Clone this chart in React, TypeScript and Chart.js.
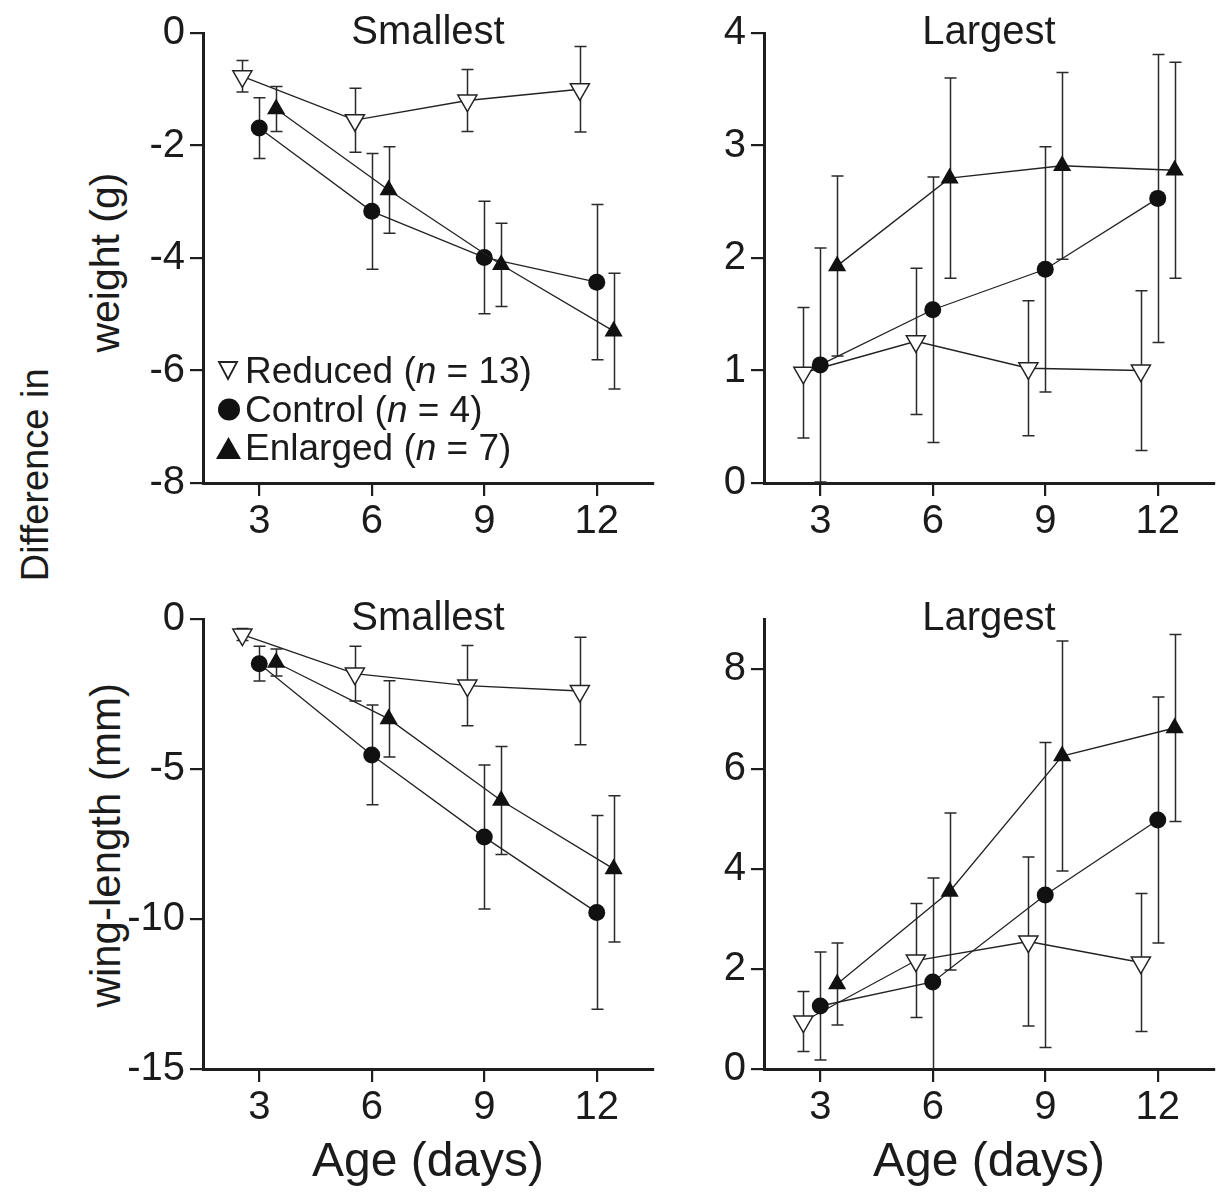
import React, { useEffect, useRef } from 'react';
import { Chart, registerables } from 'chart.js';

Chart.register(...registerables);

// Nestling age at measurement (days); groups are dodged sideways around each age.
const ageDays = [3, 6, 9, 12];
const ageTicks = [3, 6, 9, 12];

// Difference in weight (g), smallest chick
const wtSmallReduced = [-0.77, -1.55, -1.2, -1.0];
const wtSmallReducedErr = [0.28, 0.57, 0.55, 0.76];
const wtSmallControl = [-1.69, -3.17, -3.99, -4.43];
const wtSmallControlErr = [0.54, 1.03, 1.0, 1.38];
const wtSmallEnlarged = [-1.35, -2.79, -4.12, -5.3];
const wtSmallEnlargedErr = [0.4, 0.77, 0.74, 1.03];

// Difference in weight (g), largest chick
const wtLargeReduced = [0.98, 1.26, 1.02, 1.0];
const wtLargeReducedErr = [0.58, 0.65, 0.6, 0.71];
const wtLargeControl = [1.05, 1.54, 1.9, 2.53];
const wtLargeControlErr = [1.04, 1.18, 1.09, 1.28];
const wtLargeEnlarged = [1.93, 2.71, 2.82, 2.78];
const wtLargeEnlargedErr = [0.8, 0.89, 0.83, 0.96];

// Difference in wing-length (mm), smallest chick
const wingSmallReduced = [-0.52, -1.82, -2.22, -2.4];
const wingSmallReducedErr = [0.2, 0.91, 1.34, 1.79];
const wingSmallControl = [-1.49, -4.53, -7.27, -9.78];
const wingSmallControlErr = [0.58, 1.66, 2.4, 3.23];
const wingSmallEnlarged = [-1.45, -3.33, -6.05, -8.33];
const wingSmallEnlargedErr = [0.45, 1.27, 1.8, 2.44];

// Difference in wing-length (mm), largest chick
const wingLargeReduced = [0.95, 2.17, 2.55, 2.13];
const wingLargeReducedErr = [0.6, 1.14, 1.69, 1.38];
const wingLargeControl = [1.26, 1.74, 3.48, 4.98];
const wingLargeControlErr = [1.08, 2.08, 3.05, 2.46];
const wingLargeEnlarged = [1.7, 3.55, 6.26, 6.82];
const wingLargeEnlargedErr = [0.82, 1.57, 2.3, 1.87];

const groupNames = ['Reduced', 'Control', 'Enlarged'];
const groupSizes = [13, 4, 7];

const FONT = '"Liberation Sans", Arial, Helvetica, sans-serif';
const INK = '#1b1b1b';

// Geometry of each panel canvas
const AREA = 450;
const AX_W = 90;
const PAD_TOP = 30;
const AX_H = 70;
const PAD_RIGHT = 4;
const CANVAS_W = AX_W + AREA + PAD_RIGHT;
const CANVAS_H = PAD_TOP + AREA + AX_H;

const DODGE = [-0.45, 0, 0.45];

type Style = 'reduced' | 'control' | 'enlarged';
const STYLES: Style[] = ['reduced', 'control', 'enlarged'];

type PanelCfg = {
  title: string;
  left: number;
  top: number;
  yMin: number;
  yMax: number;
  yTicks: number[];
  means: number[][];
  errs: number[][];
  legend?: boolean;
};

const panels: PanelCfg[] = [
  {
    title: 'Smallest', left: 203, top: 33, yMin: -8, yMax: 0, yTicks: [-8, -6, -4, -2, 0],
    means: [wtSmallReduced, wtSmallControl, wtSmallEnlarged],
    errs: [wtSmallReducedErr, wtSmallControlErr, wtSmallEnlargedErr],
    legend: true,
  },
  {
    title: 'Largest', left: 764, top: 33, yMin: 0, yMax: 4, yTicks: [0, 1, 2, 3, 4],
    means: [wtLargeReduced, wtLargeControl, wtLargeEnlarged],
    errs: [wtLargeReducedErr, wtLargeControlErr, wtLargeEnlargedErr],
  },
  {
    title: 'Smallest', left: 203, top: 619, yMin: -15, yMax: 0, yTicks: [-15, -10, -5, 0],
    means: [wingSmallReduced, wingSmallControl, wingSmallEnlarged],
    errs: [wingSmallReducedErr, wingSmallControlErr, wingSmallEnlargedErr],
  },
  {
    title: 'Largest', left: 764, top: 619, yMin: 0, yMax: 9, yTicks: [0, 2, 4, 6, 8],
    means: [wingLargeReduced, wingLargeControl, wingLargeEnlarged],
    errs: [wingLargeReducedErr, wingLargeControlErr, wingLargeEnlargedErr],
  },
];

const CAP = 6;

const errorBarPlugin = {
  id: 'errorBars',
  beforeDatasetsDraw(chart: any) {
    const { ctx, chartArea, scales } = chart;
    ctx.save();
    ctx.beginPath();
    ctx.rect(chartArea.left, chartArea.top, chartArea.right - chartArea.left, chartArea.bottom - chartArea.top);
    ctx.clip();
    ctx.strokeStyle = '#2a2a2a';
    ctx.lineWidth = 1.5;
    chart.data.datasets.forEach((ds: any) => {
      ctx.beginPath();
      ds.data.forEach((pt: any, j: number) => {
        const e = ds.errors[j];
        const px = Math.round(scales.x.getPixelForValue(pt.x)) + 0.5;
        const yt = scales.y.getPixelForValue(pt.y + e);
        const yb = scales.y.getPixelForValue(pt.y - e);
        ctx.moveTo(px, yt);
        ctx.lineTo(px, yb);
        ctx.moveTo(px - CAP, yt);
        ctx.lineTo(px + CAP, yt);
        ctx.moveTo(px - CAP, yb);
        ctx.lineTo(px + CAP, yb);
      });
      ctx.stroke();
    });
    ctx.restore();
  },
};

const titlePlugin = {
  id: 'panelTitle',
  afterDraw(chart: any, _args: any, opts: any) {
    const { ctx, chartArea } = chart;
    ctx.save();
    ctx.font = `40px ${FONT}`;
    ctx.fillStyle = INK;
    ctx.textAlign = 'center';
    ctx.textBaseline = 'alphabetic';
    ctx.fillText(opts.text, (chartArea.left + chartArea.right) / 2, chartArea.top + 11);
    ctx.restore();
  },
};

const legendPlugin = {
  id: 'groupLegend',
  afterDraw(chart: any, _args: any, opts: any) {
    if (!opts.show) return;
    const { ctx, chartArea } = chart;
    const x0 = chartArea.left + 25;
    const base0 = chartArea.top + 350;
    const gap = 38.5;
    ctx.save();
    ctx.fillStyle = INK;
    ctx.textBaseline = 'alphabetic';
    ctx.textAlign = 'left';
    groupNames.forEach((name, i) => {
      const base = base0 + gap * i;
      const cy = base - 12;
      if (STYLES[i] === 'reduced') {
        ctx.beginPath();
        ctx.moveTo(x0 - 9, cy - 9);
        ctx.lineTo(x0 + 9, cy - 9);
        ctx.lineTo(x0, cy + 8);
        ctx.closePath();
        ctx.strokeStyle = '#222';
        ctx.lineWidth = 1.8;
        ctx.stroke();
      } else if (STYLES[i] === 'control') {
        ctx.beginPath();
        ctx.arc(x0 + 1, cy, 11, 0, Math.PI * 2);
        ctx.fillStyle = '#111';
        ctx.fill();
      } else {
        ctx.beginPath();
        ctx.moveTo(x0 - 12, cy + 11);
        ctx.lineTo(x0 + 13, cy + 11);
        ctx.lineTo(x0 + 0.5, cy - 11);
        ctx.closePath();
        ctx.fillStyle = '#111';
        ctx.fill();
      }
      ctx.fillStyle = INK;
      let x = x0 + 17;
      const parts: [string, boolean][] = [
        [`${name} (`, false],
        ['n', true],
        [` = ${groupSizes[i]})`, false],
      ];
      parts.forEach(([t, it]) => {
        ctx.font = `${it ? 'italic ' : ''}37px ${FONT}`;
        ctx.fillText(t, x, base);
        x += ctx.measureText(t).width;
      });
    });
    ctx.restore();
  },
};

function Panel({ cfg }: { cfg: PanelCfg }) {
  const ref = useRef<HTMLCanvasElement>(null);
  useEffect(() => {
    const datasets = STYLES.map((st, g) => ({
      label: groupNames[g],
      data: ageDays.map((d, i) => ({ x: d + DODGE[g], y: cfg.means[g][i] })),
      errors: cfg.errs[g],
      borderColor: '#222',
      borderWidth: 1.3,
      pointStyle: st === 'control' ? 'circle' : 'triangle',
      pointRotation: st === 'reduced' ? 180 : 0,
      pointRadius: st === 'control' ? 8.5 : st === 'reduced' ? 11 : 10.5,
      pointBackgroundColor: st === 'reduced' ? '#ffffff' : '#111111',
      pointBorderColor: st === 'reduced' ? '#222222' : '#111111',
      pointBorderWidth: st === 'reduced' ? 1.5 : 0,
      fill: false,
      tension: 0,
      order: 3 - g,
      clip: false as any,
    }));
    const tickFont = { family: FONT, size: 40 };
    const chart = new Chart(ref.current!, {
      type: 'line',
      data: { datasets: datasets as any },
      plugins: [errorBarPlugin, titlePlugin, legendPlugin],
      options: {
        animation: false,
        responsive: false,
        devicePixelRatio: 1,
        events: [],
        layout: { autoPadding: false, padding: { left: 0, top: PAD_TOP, right: PAD_RIGHT, bottom: 0 } },
        scales: {
          x: {
            type: 'linear',
            min: 1.5,
            max: 13.5,
            afterBuildTicks: (s: any) => { s.ticks = ageTicks.map((v) => ({ value: v })); },
            afterFit: (s: any) => {
              s.height = AX_H;
              s.paddingLeft = 0;
              s.paddingRight = 0;
            },
            grid: { display: true, drawOnChartArea: false, drawTicks: true, tickLength: 13, color: '#1e1e1e', lineWidth: 2.2 },
            border: { display: true, color: '#1e1e1e', width: 3 },
            ticks: { font: tickFont, color: INK, padding: 2, maxRotation: 0, autoSkip: false },
          },
          y: {
            type: 'linear',
            min: cfg.yMin,
            max: cfg.yMax,
            afterBuildTicks: (s: any) => { s.ticks = cfg.yTicks.map((v) => ({ value: v })); },
            afterFit: (s: any) => {
              s.width = AX_W;
              s.paddingTop = 0;
              s.paddingBottom = 0;
            },
            grid: { display: true, drawOnChartArea: false, drawTicks: true, tickLength: 13, color: '#1e1e1e', lineWidth: 2.2 },
            border: { display: true, color: '#1e1e1e', width: 3 },
            ticks: { font: tickFont, color: INK, padding: 5, autoSkip: false },
          },
        },
        plugins: {
          legend: { display: false },
          tooltip: { enabled: false },
          title: { display: false },
          panelTitle: { text: cfg.title },
          groupLegend: { show: !!cfg.legend },
        } as any,
      },
    });
    return () => chart.destroy();
  }, [cfg]);
  return (
    <canvas
      ref={ref}
      width={CANVAS_W}
      height={CANVAS_H}
      style={{ position: 'absolute', left: cfg.left - AX_W, top: cfg.top - PAD_TOP, width: CANVAS_W, height: CANVAS_H }}
    />
  );
}

function VLabel({ text, cx, cy, size }: { text: string; cx: number; cy: number; size: number }) {
  const w = 600;
  const h = size * 1.2;
  return (
    <div
      style={{
        position: 'absolute',
        left: cx - w / 2,
        top: cy - h / 2,
        width: w,
        height: h,
        lineHeight: `${h}px`,
        textAlign: 'center',
        fontFamily: FONT,
        fontSize: size,
        color: INK,
        transform: 'rotate(-90deg)',
        whiteSpace: 'nowrap',
      }}
    >
      {text}
    </div>
  );
}

function HLabel({ text, cx, cy, size }: { text: string; cx: number; cy: number; size: number }) {
  const w = 600;
  const h = size * 1.2;
  return (
    <div
      style={{
        position: 'absolute',
        left: cx - w / 2,
        top: cy - h / 2,
        width: w,
        height: h,
        lineHeight: `${h}px`,
        textAlign: 'center',
        fontFamily: FONT,
        fontSize: size,
        color: INK,
        whiteSpace: 'nowrap',
      }}
    >
      {text}
    </div>
  );
}

export default function App() {
  return (
    <div
      style={{
        position: 'absolute',
        left: 0,
        top: 0,
        width: 1218,
        height: 1192,
        background: '#ffffff',
        overflow: 'hidden',
      }}
    >
      <VLabel text="Difference in" cx={36} cy={475} size={38} />
      <VLabel text="weight (g)" cx={106} cy={263} size={41} />
      <VLabel text="wing-length (mm)" cx={106} cy={845} size={42} />
      {panels.map((p, i) => (
        <Panel key={i} cfg={p} />
      ))}
      <HLabel text="Age (days)" cx={428} cy={1160} size={48} />
      <HLabel text="Age (days)" cx={989} cy={1160} size={48} />
    </div>
  );
}
